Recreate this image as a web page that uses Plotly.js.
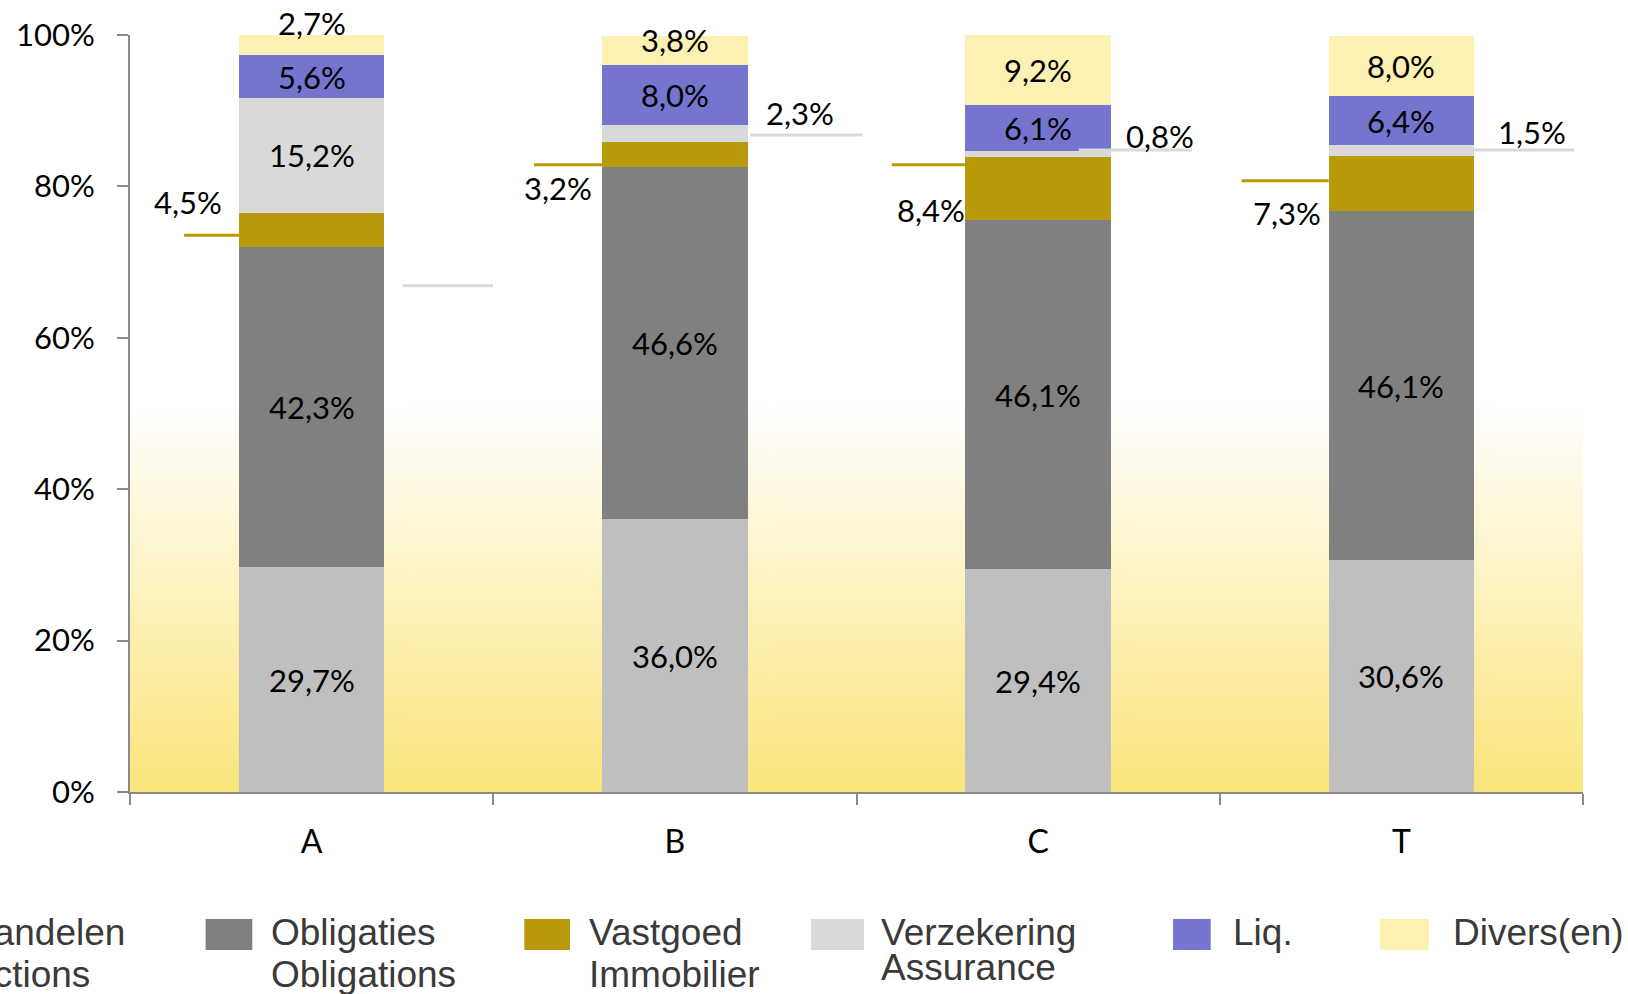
<!DOCTYPE html>
<html>
<head>
<meta charset="utf-8">
<script src="https://cdn.plot.ly/plotly-3.0.1.min.js"></script>
<style>
  html, body { margin: 0; padding: 0; background: #ffffff; }
  #chart { width: 1628px; height: 994px; }
</style>
</head>
<body>
<div id="chart"></div>
<script>
// ---------- data ----------
const categories = ['A', 'B', 'C', 'T'];
const aandelen    = [29.7, 36.0, 29.4, 30.6];
const obligaties  = [42.3, 46.6, 46.1, 46.1];
const vastgoed    = [4.5, 3.2, 8.4, 7.3];
const verzekering = [15.2, 2.3, 0.8, 1.5];
const liq         = [5.6, 8.0, 6.1, 6.4];
const divers      = [2.7, 3.8, 9.2, 8.0];
const yTickValues = [0, 20, 40, 60, 80, 100];
const yTickLabels = ['0%', '20%', '40%', '60%', '80%', '100%'];
const legendLine1 = ['Aandelen', 'Obligaties', 'Vastgoed', 'Verzekering', 'Liq.', 'Divers(en)'];
const legendLine2 = ['Actions', 'Obligations', 'Immobilier', 'Assurance', '', ''];

// ---------- styling ----------
const seriesValues = [aandelen, obligaties, vastgoed, verzekering, liq, divers];
const colors = ['#BFBFBF', '#808080', '#B8990A', '#D9D9D9', '#7575CF', '#FCF0B2'];
const labelFont = { family: 'Lato, sans-serif', size: 31, color: '#000000' };
const axisColor = '#8A8A8A';

// callout layout (label placement, relative to category index / value axis)
const vastgoedCallout = {
  lineFrom: [-0.351, -0.388, -0.403, -0.44], lineTo: [-0.2, -0.2, -0.2, -0.2],
  lineY: [73.56, 82.85, 82.85, 80.74],
  labelDx: [-0.340, -0.323, -0.296, -0.316], labelY: [78.0, 79.8, 76.9, 76.5]
};
const verzekeringCallout = {
  lineFrom: [0.251, 0.207, 0.112, 0.2], lineTo: [0.499, 0.517, 0.423, 0.475],
  lineY: [66.87, 86.8, 84.8, 84.8],
  inside: [true, false, false, false],
  labelDx: [0, 0.344, 0.336, 0.360], labelY: [0, 89.7, 86.6, 87.25]
};
const diversYShift = [22, 10, 0, 0];

const fmt = v => v.toFixed(1).replace('.', ',') + '%';

// ---------- traces ----------
const traces = seriesValues.map((vals, s) => ({
  type: 'bar',
  x: categories,
  y: vals,
  name: legendLine1[s],
  marker: { color: colors[s], line: { width: 0 } },
  hovertemplate: '%{x}: %{y:.1f}%<extra>' + legendLine1[s] + '</extra>',
  showlegend: false
}));

// ---------- annotations & shapes ----------
const annotations = [];
const shapes = [];
categories.forEach((cat, i) => {
  let base = 0;
  seriesValues.forEach((vals, s) => {
    const v = vals[i];
    const mid = base + v / 2;
    if (s === 2) {
      annotations.push({ x: i + vastgoedCallout.labelDx[i], y: vastgoedCallout.labelY[i], xref: 'x', yref: 'y',
        text: fmt(v), showarrow: false, font: labelFont, xanchor: 'center', yanchor: 'middle' });
      shapes.push({ type: 'line', xref: 'x', yref: 'y', x0: i + vastgoedCallout.lineFrom[i], x1: i + vastgoedCallout.lineTo[i],
        y0: vastgoedCallout.lineY[i], y1: vastgoedCallout.lineY[i], line: { color: colors[2], width: 3 } });
    } else if (s === 3) {
      if (verzekeringCallout.inside[i]) {
        annotations.push({ x: i, y: mid, xref: 'x', yref: 'y', text: fmt(v), showarrow: false, font: labelFont });
      } else {
        annotations.push({ x: i + verzekeringCallout.labelDx[i], y: verzekeringCallout.labelY[i], xref: 'x', yref: 'y',
          text: fmt(v), showarrow: false, font: labelFont });
      }
      shapes.push({ type: 'line', xref: 'x', yref: 'y', x0: i + verzekeringCallout.lineFrom[i], x1: i + verzekeringCallout.lineTo[i],
        y0: verzekeringCallout.lineY[i], y1: verzekeringCallout.lineY[i], line: { color: colors[3], width: 3 }, layer: 'above' });
    } else {
      annotations.push({ x: i, y: mid, xref: 'x', yref: 'y', text: fmt(v), showarrow: false, font: labelFont,
        yshift: s === 5 ? diversYShift[i] : 0 });
    }
    base += v;
  });
});

// ---------- manual legend ----------
const plotL = 130, plotW = 1453, plotB = 792, plotH = 757;
const px = x => (x - plotL) / plotW;
const py = y => (plotB - y) / plotH;
const legendSquares = [[-100, -53], [205.6, 252.3], [524.3, 570], [811, 864], [1173, 1210.7], [1380, 1428.7]];
const legendTextX = [-33, 269, 587, 878.5, 1230.5, 1450.6];
const legendLine2Y = [974, 974, 974, 967, 974, 974];
const legendFont = { family: '"Liberation Sans", Arial, sans-serif', size: 37, color: '#3A3A3A' };
legendLine1.forEach((t, s) => {
  shapes.push({ type: 'rect', xref: 'paper', yref: 'paper',
    x0: px(legendSquares[s][0]), x1: px(legendSquares[s][1]), y0: py(950), y1: py(919),
    fillcolor: colors[s], line: { width: 0 } });
  annotations.push({ xref: 'paper', yref: 'paper', x: px(legendTextX[s]), y: py(932), text: t,
    showarrow: false, xanchor: 'left', yanchor: 'middle', font: legendFont });
  if (legendLine2[s]) {
    annotations.push({ xref: 'paper', yref: 'paper', x: px(legendTextX[s]), y: py(legendLine2Y[s]), text: legendLine2[s],
      showarrow: false, xanchor: 'left', yanchor: 'middle', font: legendFont });
  }
});

// ---------- gradient background ----------
const cv = document.createElement('canvas');
cv.width = 8; cv.height = 500;
const ctx = cv.getContext('2d');
const grad = ctx.createLinearGradient(0, 0, 0, 500);
grad.addColorStop(0, '#FFFFFF');
grad.addColorStop(0.49, '#FFFFFF');
grad.addColorStop(1, '#FAE57A');
ctx.fillStyle = grad;
ctx.fillRect(0, 0, 8, 500);
const bgImage = cv.toDataURL('image/png');

const layout = {
  width: 1628, height: 994,
  margin: { l: 130, r: 45, t: 35, b: 202 },
  paper_bgcolor: '#FFFFFF',
  plot_bgcolor: 'rgba(0,0,0,0)',
  barmode: 'stack',
  bargap: 0.6,
  showlegend: false,
  xaxis: {
    type: 'category',
    showline: true, linecolor: axisColor, linewidth: 2,
    ticks: 'outside', tickson: 'boundaries', ticklen: 11, tickcolor: axisColor, tickwidth: 2,
    tickfont: { family: 'Lato, sans-serif', size: 32, color: '#000000' },
    ticklabelstandoff: 21,
    showgrid: false, zeroline: false, fixedrange: true
  },
  yaxis: {
    range: [0, 100],
    tickvals: yTickValues, ticktext: yTickLabels,
    showline: true, linecolor: axisColor, linewidth: 2,
    ticks: 'outside', ticklen: 11, tickcolor: axisColor, tickwidth: 2,
    tickfont: { family: 'Lato, sans-serif', size: 31, color: '#000000' },
    ticklabelstandoff: 16,
    showgrid: false, zeroline: false, fixedrange: true
  },
  images: [{
    source: bgImage, xref: 'paper', yref: 'paper', x: 0, y: 1, sizex: 1, sizey: 1,
    sizing: 'stretch', xanchor: 'left', yanchor: 'top', layer: 'below'
  }],
  annotations: annotations,
  shapes: shapes
};

Plotly.newPlot('chart', traces, layout, { displayModeBar: false, staticPlot: false });
</script>
</body>
</html>
